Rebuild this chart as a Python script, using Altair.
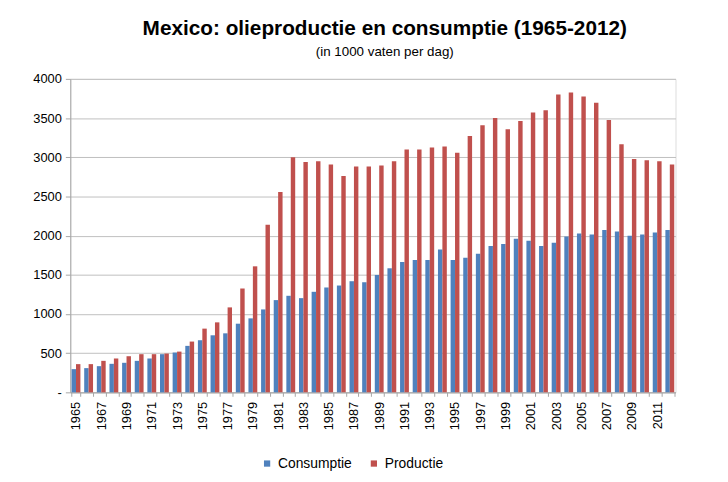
import altair as alt
import pandas as pd

years = list(range(1965, 2013))
consumptie = [296, 309, 334, 364, 377, 402, 432, 487, 508, 593, 665, 728, 753, 876, 944,
              1058, 1177, 1232, 1202, 1283, 1338, 1363, 1418, 1405, 1498, 1583, 1663, 1689,
              1689, 1824, 1689, 1718, 1769, 1867, 1892, 1960, 1934, 1867, 1909, 1989, 2028,
              2015, 2070, 2053, 1998, 2015, 2040, 2070]
productie = [360, 360, 402, 432, 461, 487, 487, 495, 520, 648, 813, 893, 1084, 1325, 1608,
             2138, 2557, 3001, 2938, 2950, 2908, 2760, 2883, 2883, 2895, 2950, 3098, 3098,
             3124, 3137, 3056, 3272, 3407, 3501, 3357, 3462, 3572, 3598, 3801, 3826, 3776,
             3695, 3475, 3166, 2976, 2963, 2950, 2908]
series = ["Consumptie", "Productie"]
colors = ["#4f81bd", "#c0504d"]
y_ticks = [0, 500, 1000, 1500, 2000, 2500, 3000, 3500, 4000]

rows = []
for i, yr in enumerate(years):
    rows.append({"jaar": str(yr), "reeks": series[0], "waarde": consumptie[i]})
    rows.append({"jaar": str(yr), "reeks": series[1], "waarde": productie[i]})
df = pd.DataFrame(rows)

FONT = "Liberation Sans"

chart = alt.Chart(df).mark_bar().encode(
    x=alt.X("jaar:N", sort=[str(y) for y in years],
            scale=alt.Scale(paddingInner=0.3, paddingOuter=0.1),
            axis=alt.Axis(title=None, labelAngle=270, labelFontSize=13, labelFont=FONT,
                          labelColor="#000000", tickBand="extent", tickSize=4,
                          tickColor="#a6a6a6", domainColor="#a6a6a6", labelPadding=5,
                          labelExpr="(toNumber(datum.value) - 1965) % 2 == 0 ? datum.value : ''")),
    xOffset=alt.XOffset("reeks:N", sort=series),
    y=alt.Y("waarde:Q", scale=alt.Scale(domain=[0, 4000], nice=False),
            axis=alt.Axis(title=None, values=y_ticks, format="d", labelFontSize=13,
                          labelFont=FONT, labelColor="#000000", tickSize=5,
                          tickColor="#a6a6a6", domainColor="#a6a6a6", gridColor="#bfbfbf",
                          labelPadding=4,
                          labelExpr="datum.value == 0 ? '-' : datum.label")),
    color=alt.Color("reeks:N", sort=series,
                    scale=alt.Scale(domain=series, range=colors),
                    legend=alt.Legend(title=None, orient="none", legendX=192, legendY=382,
                                      direction="horizontal", symbolType="square",
                                      symbolSize=40, symbolStrokeWidth=0, labelFontSize=14,
                                      labelFont=FONT, labelColor="#000000", columnPadding=15)),
).properties(
    width=612,
    height=317,
    title=alt.Title("Mexico: olieproductie en consumptie (1965-2012)",
                    subtitle="(in 1000 vaten per dag)",
                    font=FONT, fontSize=21, fontWeight="bold", color="#000000",
                    subtitleFont=FONT, subtitleFontSize=13.5, subtitleColor="#000000",
                    subtitlePadding=6, anchor="middle", dx=12, offset=15),
    autosize=alt.AutoSizeParams(type="none"),
    padding={"left": 63, "top": 69, "right": 45, "bottom": 88},
).configure_view(stroke=None).configure(background="#ffffff")

chart.save("out.html", embed_options={"renderer": "svg", "actions": False})
